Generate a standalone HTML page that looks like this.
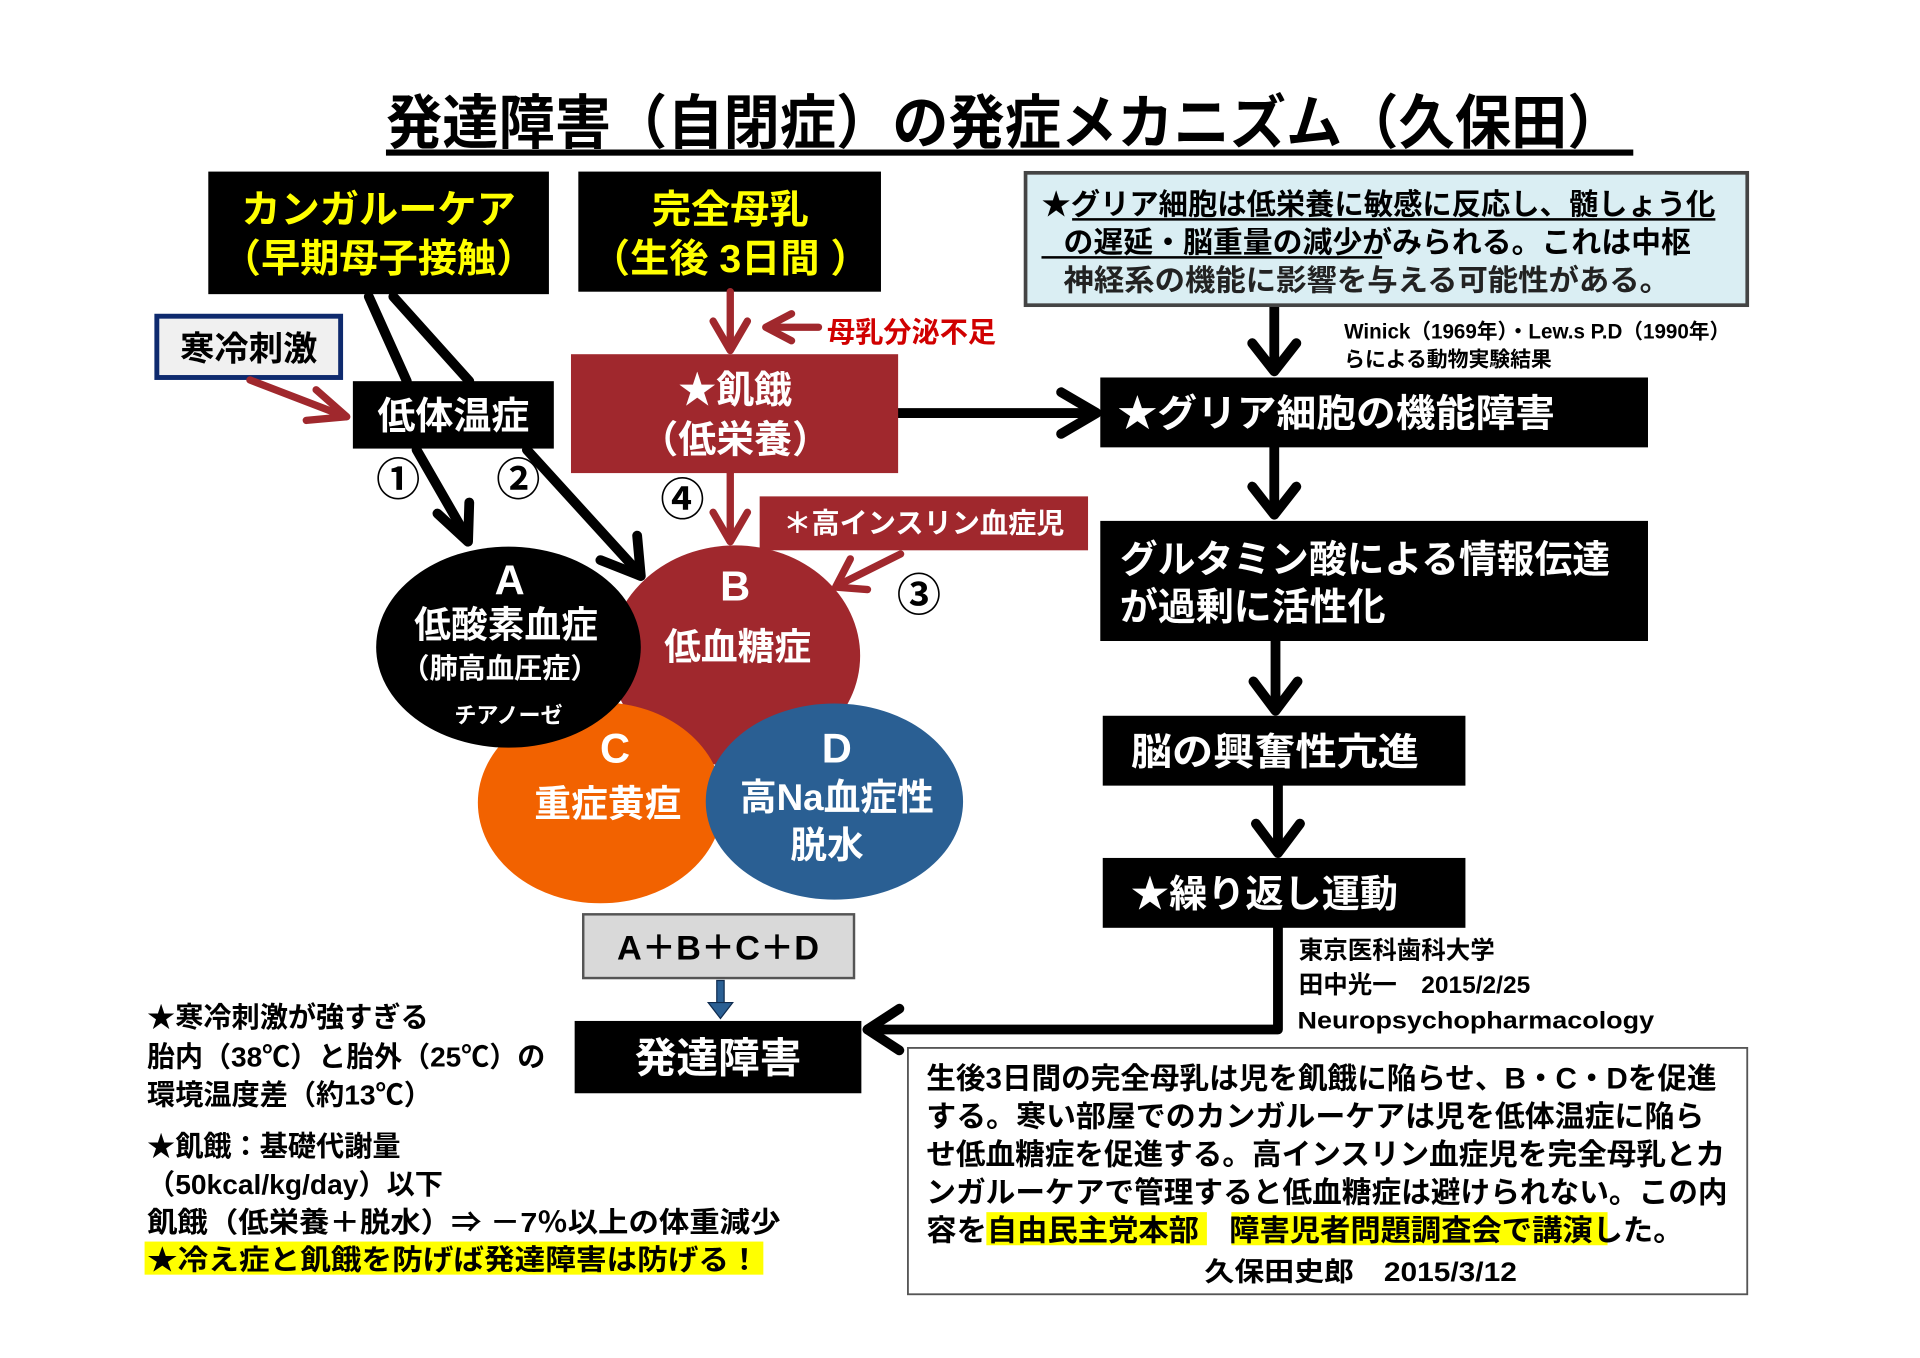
<!DOCTYPE html>
<html><head><meta charset="utf-8"><style>
html,body{margin:0;padding:0;background:#fff;}
svg{display:block;}
text{font-family:"Liberation Sans","Noto Sans CJK JP",sans-serif;font-weight:bold;}
</style></head><body>
<svg width="1920" height="1358" viewBox="0 0 1567 1108" preserveAspectRatio="none" xmlns="http://www.w3.org/2000/svg">
<rect width="1567" height="1108" fill="#fff"/>
<text x="315" y="117" font-size="48" textLength="1010" lengthAdjust="spacingAndGlyphs">発達障害（自閉症）の発症メカニズム（久保田）</text>
<rect x="315" y="122" width="1018" height="5" fill="#000"/>

<rect x="170" y="140" width="278" height="100" fill="#000"/>
<text x="309" y="182" font-size="32" fill="#ffff00" text-anchor="middle">カンガルーケア</text>
<text x="309" y="222" font-size="32" fill="#ffff00" text-anchor="middle">（早期母子接触）</text>
<rect x="472" y="140" width="247" height="98" fill="#000"/>
<text x="596" y="182" font-size="32" fill="#ffff00" text-anchor="middle">完全母乳</text>
<text x="596" y="222" font-size="32" fill="#ffff00" text-anchor="middle">（生後 3日間 ）</text>

<rect x="128" y="258" width="150" height="50" fill="#f0f0f0" stroke="#0e2a6e" stroke-width="4"/>
<text x="203" y="294" font-size="28" text-anchor="middle">寒冷刺激</text>
<rect x="288" y="311" width="164" height="55" fill="#000"/>
<text x="370" y="350" font-size="31" fill="#fff" text-anchor="middle">低体温症</text>

<g stroke="#000" stroke-width="8" fill="none" stroke-linecap="round" stroke-linejoin="round">
<line x1="301" y1="242" x2="332" y2="311"/>
<line x1="321" y1="242" x2="383" y2="311"/>
<line x1="340" y1="367" x2="382" y2="440"/>
<polyline points="357,419 382,442 383,410"/>
<line x1="430" y1="367" x2="522" y2="468"/>
<polyline points="490,457 523,470 520,437"/>
<line x1="733" y1="337" x2="893" y2="337"/>
<polyline points="866,320 895,337 866,354"/>
<line x1="1040" y1="249" x2="1040" y2="302"/>
<polyline points="1022,280 1040,303 1058,280"/>
<line x1="1040" y1="365" x2="1040" y2="418"/>
<polyline points="1022,397 1040,420 1058,397"/>
<line x1="1041" y1="523" x2="1041" y2="578"/>
<polyline points="1023,556 1041,580 1059,556"/>
<line x1="1043" y1="641" x2="1043" y2="694"/>
<polyline points="1025,672 1043,696 1061,672"/>
<polyline points="1043,757 1043,840 708,840"/>
<polyline points="734,823 708,840 734,857"/>
</g>
<g stroke="#a0282d" stroke-width="6" fill="none" stroke-linecap="round" stroke-linejoin="round">
<line x1="204" y1="310" x2="282" y2="340"/>
<polyline points="258,318 283,340 250,343"/>
<line x1="596" y1="238" x2="596" y2="284"/>
<polyline points="582,262 596,286 610,262"/>
<line x1="668" y1="267" x2="626" y2="267"/>
<polyline points="646,256 625,267 646,278"/>
<line x1="596" y1="386" x2="596" y2="441"/>
<polyline points="582,418 596,442 610,418"/>
<line x1="735" y1="452" x2="683" y2="478"/>
<polyline points="694,456 682,479 708,481"/>
</g>
<text x="675" y="279" font-size="23" fill="#d00000">母乳分泌不足</text>

<rect x="466" y="289" width="267" height="97" fill="#a0282d"/>
<text x="600" y="329" font-size="31" fill="#fff" text-anchor="middle">★飢餓</text>
<text x="600" y="369" font-size="31" fill="#fff" text-anchor="middle">（低栄養）</text>
<rect x="620" y="405" width="268" height="44" fill="#a0282d"/>
<text x="754" y="435" font-size="23" fill="#fff" text-anchor="middle">＊高インスリン血症児</text>

<g font-size="36" text-anchor="middle">
<text x="325" y="404">①</text>
<text x="423" y="404">②</text>
<text x="750" y="498">③</text>
<text x="557" y="420">④</text>
</g>

<ellipse cx="600" cy="535" rx="102" ry="90" fill="#a0282d"/>
<ellipse cx="490" cy="655" rx="100" ry="82" fill="#f26200"/>
<ellipse cx="681" cy="654" rx="105" ry="80" fill="#2a5f93"/>
<ellipse cx="415" cy="528" rx="108" ry="82" fill="#000"/>
<g fill="#fff" text-anchor="middle">
<text x="416" y="485" font-size="34">A</text>
<text x="413" y="520" font-size="30">低酸素血症</text>
<text x="408" y="553" font-size="23">（肺高血圧症）</text>
<text x="415" y="590" font-size="18">チアノーゼ</text>
<text x="600" y="490" font-size="34">B</text>
<text x="602" y="538" font-size="30">低血糖症</text>
<text x="502" y="622" font-size="34">C</text>
<text x="496" y="666" font-size="30">重症黄疸</text>
<text x="683" y="622" font-size="34">D</text>
<text x="683" y="661" font-size="30">高Na血症性</text>
<text x="675" y="700" font-size="30">脱水</text>
</g>

<rect x="476" y="746" width="221" height="52" fill="#d9d9d9" stroke="#555" stroke-width="2"/>
<text x="586" y="783" font-size="28" text-anchor="middle">A＋B＋C＋D</text>
<rect x="585" y="800" width="6" height="20" fill="#2a5f93" stroke="#0e2a4e" stroke-width="1"/>
<polygon points="578,818 598,818 588,831" fill="#2a5f93" stroke="#0e2a4e" stroke-width="1"/>
<rect x="469" y="833" width="234" height="59" fill="#000"/>
<text x="586" y="875" font-size="34" fill="#fff" text-anchor="middle">発達障害</text>

<g font-size="23">
<text x="120" y="838">★寒冷刺激が強すぎる</text>
<text x="120" y="870" textLength="325" lengthAdjust="spacingAndGlyphs">胎内（38℃）と胎外（25℃）の</text>
<text x="120" y="901">環境温度差（約13℃）</text>
<text x="120" y="943">★飢餓：基礎代謝量</text>
<text x="120" y="974">（50kcal/kg/day）以下</text>
<text x="120" y="1005" textLength="517" lengthAdjust="spacingAndGlyphs">飢餓（低栄養＋脱水）⇒ －7％以上の体重減少</text>
<rect x="118" y="1013" width="505" height="27" fill="#ffff00"/>
<text x="120" y="1036" textLength="500" lengthAdjust="spacingAndGlyphs">★冷え症と飢餓を防げば発達障害は防げる！</text>
</g>

<rect x="837" y="141" width="589" height="108" fill="#daeef3" stroke="#444" stroke-width="3"/>
<g font-size="24">
<text x="850" y="175" textLength="550" lengthAdjust="spacingAndGlyphs">★グリア細胞は低栄養に敏感に反応し、髄しょう化</text>
<line x1="875" y1="179" x2="1400" y2="179" stroke="#000" stroke-width="2"/>
<text x="868" y="206" textLength="512" lengthAdjust="spacingAndGlyphs">の遅延・脳重量の減少がみられる。これは中枢</text>
<line x1="850" y1="210" x2="1128" y2="210" stroke="#000" stroke-width="2"/>
<text x="868" y="237" textLength="495" lengthAdjust="spacingAndGlyphs" fill="#222">神経系の機能に影響を与える可能性がある。</text>
</g>
<text x="1097" y="276" font-size="17" textLength="315" lengthAdjust="spacingAndGlyphs">Winick（1969年）・Lew.s P.D（1990年）</text>
<text x="1097" y="299" font-size="17">らによる動物実験結果</text>

<rect x="898" y="308" width="447" height="57" fill="#000"/>
<text x="912" y="348" font-size="31" fill="#fff" textLength="357" lengthAdjust="spacingAndGlyphs">★グリア細胞の機能障害</text>
<rect x="898" y="425" width="447" height="98" fill="#000"/>
<text x="914" y="467" font-size="31" fill="#fff" textLength="400" lengthAdjust="spacingAndGlyphs">グルタミン酸による情報伝達</text>
<text x="914" y="506" font-size="31" fill="#fff">が過剰に活性化</text>
<rect x="900" y="584" width="296" height="57" fill="#000"/>
<text x="923" y="624" font-size="31" fill="#fff" textLength="235" lengthAdjust="spacingAndGlyphs">脳の興奮性亢進</text>
<rect x="900" y="700" width="296" height="57" fill="#000"/>
<text x="923" y="740" font-size="31" fill="#fff" textLength="218" lengthAdjust="spacingAndGlyphs">★繰り返し運動</text>

<g font-size="20">
<text x="1060" y="782">東京医科歯科大学</text>
<text x="1060" y="810">田中光一　2015/2/25</text>
<text x="1059" y="839" textLength="291" lengthAdjust="spacingAndGlyphs">Neuropsychopharmacology</text>
</g>

<rect x="741" y="855" width="685" height="201" fill="#fff" stroke="#555" stroke-width="1.5"/>
<rect x="805" y="989" width="180" height="27" fill="#ffff00"/>
<rect x="1005" y="989" width="307" height="27" fill="#ffff00"/>
<g font-size="24">
<text x="756" y="888" textLength="645" lengthAdjust="spacingAndGlyphs">生後3日間の完全母乳は児を飢餓に陥らせ、B・C・Dを促進</text>
<text x="756" y="919" textLength="635" lengthAdjust="spacingAndGlyphs">する。寒い部屋でのカンガルーケアは児を低体温症に陥ら</text>
<text x="756" y="950" textLength="652" lengthAdjust="spacingAndGlyphs">せ低血糖症を促進する。高インスリン血症児を完全母乳とカ</text>
<text x="756" y="981" textLength="654" lengthAdjust="spacingAndGlyphs">ンガルーケアで管理すると低血糖症は避けられない。この内</text>
<text x="756" y="1012" textLength="618" lengthAdjust="spacingAndGlyphs">容を自由民主党本部　障害児者問題調査会で講演した。</text>
<text x="983" y="1045" font-size="22" textLength="255" lengthAdjust="spacingAndGlyphs">久保田史郎　2015/3/12</text>
</g>
</svg>
</body></html>
